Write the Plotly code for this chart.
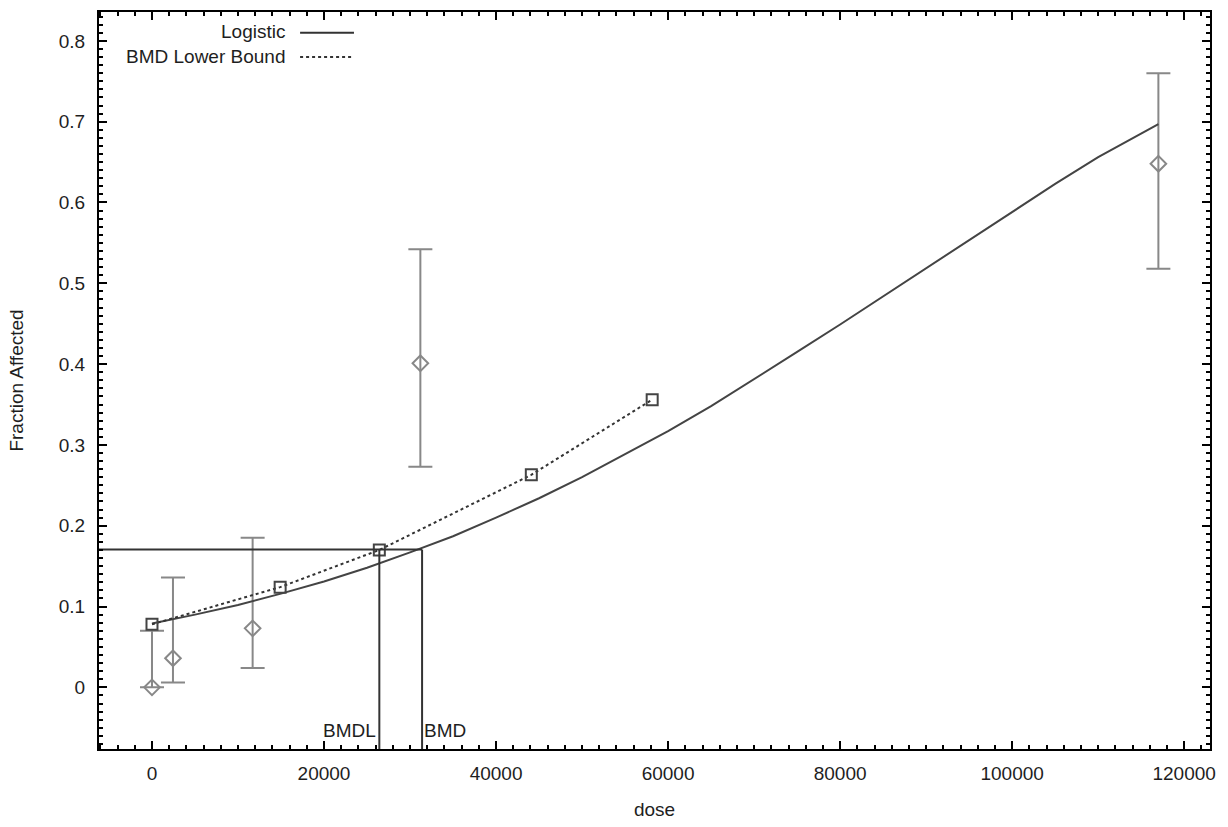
import plotly.graph_objects as go

# ---- data ----
obs_dose = [0, 2440, 11700, 31200, 117000]
obs_frac = [0.0, 0.036, 0.073, 0.401, 0.648]
obs_lo = [0.0, 0.006, 0.024, 0.273, 0.518]
obs_hi = [0.070, 0.136, 0.185, 0.542, 0.760]

fit_dose = [0, 5000, 10000, 15000, 20000, 25000, 30000, 35000, 40000, 45000,
            50000, 55000, 60000, 65000, 70000, 75000, 80000, 85000, 90000,
            95000, 100000, 105000, 110000, 115000, 117000]
fit_frac = [0.079, 0.090, 0.102, 0.116, 0.131, 0.148, 0.167, 0.187, 0.210, 0.234,
            0.260, 0.288, 0.317, 0.348, 0.381, 0.415, 0.449, 0.484, 0.519,
            0.554, 0.589, 0.623, 0.656, 0.686, 0.697]

bmdl_dose = [0, 14900, 26430, 44100, 58150]
bmdl_frac = [0.078, 0.124, 0.170, 0.263, 0.356]

bmr_level = 0.1705
bmd = 31400
bmdl = 26430

x_range = [-6160, 123000]
y_range = [-0.0763, 0.8357]

FONT = "Liberation Sans, Arial, Helvetica, sans-serif"
TXT = "#1e1e1e"
FS = 19

fig = go.Figure()

# observed data with error bars
fig.add_trace(go.Scatter(
    x=obs_dose, y=obs_frac, mode="markers",
    marker=dict(symbol="diamond-open", size=12, color="#888888",
                line=dict(width=2, color="#888888")),
    error_y=dict(type="data", symmetric=False,
                 array=[h - f for h, f in zip(obs_hi, obs_frac)],
                 arrayminus=[f - l for l, f in zip(obs_lo, obs_frac)],
                 color="#888888", thickness=2, width=12),
    showlegend=False, hoverinfo="x+y"))

# logistic fit
fig.add_trace(go.Scatter(
    x=fit_dose, y=fit_frac, mode="lines",
    line=dict(color="#444444", width=2),
    showlegend=False))

# BMD lower bound
fig.add_trace(go.Scatter(
    x=bmdl_dose, y=bmdl_frac, mode="lines+markers",
    line=dict(color="#333333", width=2, dash="dot"),
    marker=dict(symbol="square-open", size=11, color="#444444",
                line=dict(width=2, color="#444444")),
    showlegend=False))

# BMR horizontal line and BMD / BMDL vertical lines
fig.add_trace(go.Scatter(
    x=[x_range[0], bmd], y=[bmr_level, bmr_level], mode="lines",
    line=dict(color="#333333", width=2), showlegend=False, hoverinfo="skip"))
fig.add_trace(go.Scatter(
    x=[bmd, bmd], y=[bmr_level, y_range[0]], mode="lines",
    line=dict(color="#333333", width=2), showlegend=False, hoverinfo="skip"))
fig.add_trace(go.Scatter(
    x=[bmdl, bmdl], y=[bmr_level, y_range[0]], mode="lines",
    line=dict(color="#333333", width=2), showlegend=False, hoverinfo="skip"))

annotations = [
    dict(x=bmdl, y=-0.054, xref="x", yref="y", text="BMDL", showarrow=False,
         xanchor="right", yanchor="middle", xshift=-1,
         font=dict(family=FONT, size=FS, color=TXT)),
    dict(x=bmd, y=-0.054, xref="x", yref="y", text="BMD", showarrow=False,
         xanchor="left", yanchor="middle", xshift=0,
         font=dict(family=FONT, size=FS, color=TXT)),
    # legend
    dict(x=0.1692, y=0.973, xref="paper", yref="paper", text="Logistic",
         showarrow=False, xanchor="right", yanchor="middle",
         font=dict(family=FONT, size=FS, color=TXT)),
    dict(x=0.1692, y=0.940, xref="paper", yref="paper", text="BMD Lower Bound",
         showarrow=False, xanchor="right", yanchor="middle",
         font=dict(family=FONT, size=FS, color=TXT)),
]
shapes = [
    dict(type="line", xref="paper", yref="paper", x0=0.181, x1=0.2295,
         y0=0.972, y1=0.972, line=dict(color="#333333", width=2)),
    dict(type="line", xref="paper", yref="paper", x0=0.181, x1=0.2295,
         y0=0.939, y1=0.939, line=dict(color="#333333", width=2, dash="dot")),
]

axis_common = dict(
    showgrid=False, zeroline=False, showline=True, linewidth=2,
    linecolor="black", mirror="allticks", ticks="inside", ticklen=8,
    tickwidth=2, tickcolor="black",
    tickfont=dict(family=FONT, size=FS, color=TXT),
)

fig.update_layout(
    width=1228, height=827,
    margin=dict(l=99, r=18, t=10, b=76),
    paper_bgcolor="white", plot_bgcolor="white",
    showlegend=False,
    annotations=annotations, shapes=shapes,
    xaxis=dict(range=x_range, tick0=0, dtick=20000, tickformat="d",
               minor=dict(dtick=2000, ticks="inside", ticklen=4, tickwidth=1.5,
                          tickcolor="black"),
               ticklabelstandoff=6,
               title=dict(text="dose", font=dict(family=FONT, size=FS, color=TXT),
                          standoff=20),
               **axis_common),
    yaxis=dict(range=y_range, tick0=0, dtick=0.1,
               minor=dict(dtick=0.01, ticks="inside", ticklen=4, tickwidth=1.5,
                          tickcolor="black"),
               ticklabelstandoff=8,
               title=dict(text="Fraction Affected",
                          font=dict(family=FONT, size=FS, color=TXT),
                          standoff=30),
               **axis_common),
)

fig.write_html("out.html")
